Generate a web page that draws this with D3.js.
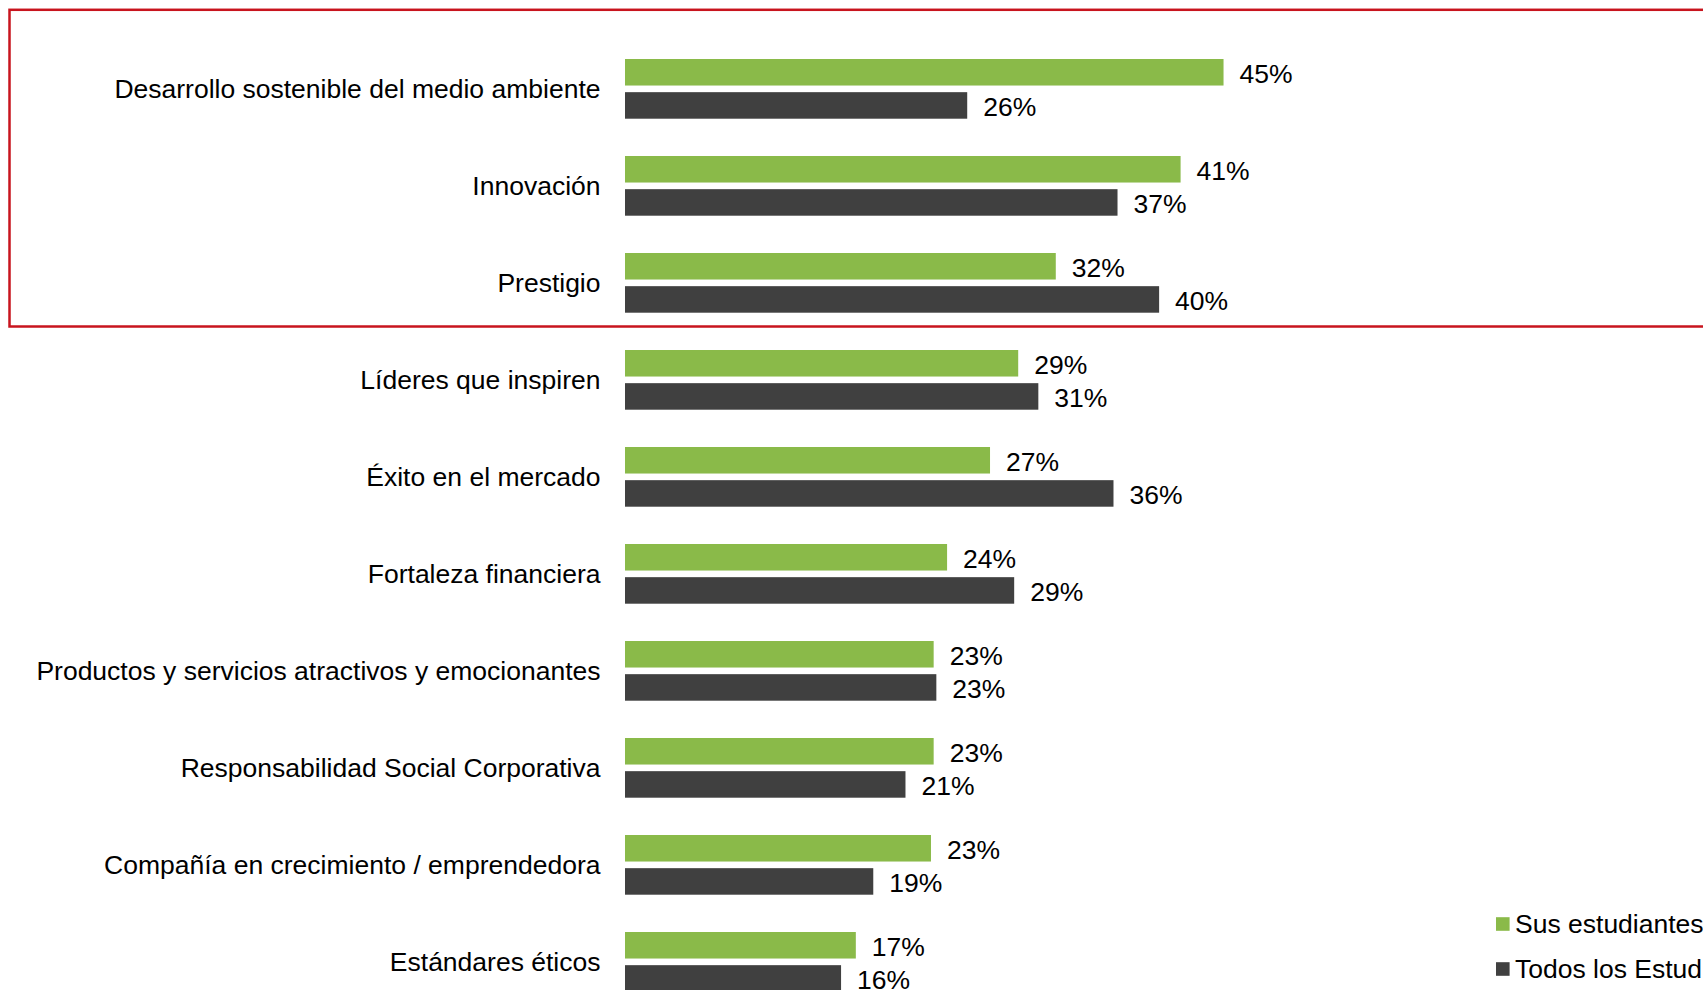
<!DOCTYPE html>
<html>
<head>
<meta charset="utf-8">
<script src="https://cdn.jsdelivr.net/npm/d3@7"></script>
<style>
  html, body { margin: 0; padding: 0; background: #ffffff; overflow: hidden; }
  svg { display: block; }
  text { font-family: "Liberation Sans", Arial, sans-serif; fill: #000; }
</style>
</head>
<body>
<svg id="chart" width="1703" height="990"></svg>
<script>
const categories = [
  "Desarrollo sostenible del medio ambiente",
  "Innovación",
  "Prestigio",
  "Líderes que inspiren",
  "Éxito en el mercado",
  "Fortaleza financiera",
  "Productos y servicios atractivos y emocionantes",
  "Responsabilidad Social Corporativa",
  "Compañía en crecimiento / emprendedora",
  "Estándares éticos"
];
const seriesNames = ["Sus estudiantes", "Todos los Estudiantes"];
const susEstudiantes = [44.6, 41.4, 32.1, 29.3, 27.2, 24.0, 23.0, 23.0, 22.8, 17.2];
const todosEstudiantes = [25.5, 36.7, 39.8, 30.8, 36.4, 29.0, 23.2, 20.9, 18.5, 16.1];
const colors = ["#8aba49", "#404040"];

const svg = d3.select("#chart");

const x = d3.scaleLinear().domain([0, 100]).range([625, 625 + 1342]);
const y = d3.scaleBand().domain(categories).range([40.35, 1010.35])
  .paddingInner(0.3845).paddingOuter(0.3845 / 2);
const ySub = d3.scaleBand().domain(seriesNames).range([0, y.bandwidth()]).paddingInner(0.2);

// highlight box
svg.append("rect")
  .attr("x", 9.5).attr("y", 9.8)
  .attr("width", 1800).attr("height", 326.5 - 9.8)
  .attr("fill", "none").attr("stroke", "#c8141e").attr("stroke-width", 2.5);

const rows = categories.map((c, i) => ({ cat: c, vals: [susEstudiantes[i], todosEstudiantes[i]] }));

const g = svg.append("g").selectAll("g.row").data(rows).join("g")
  .attr("class", "row")
  .attr("transform", d => `translate(0,${y(d.cat)})`);

g.append("text")
  .attr("x", 600.5)
  .attr("y", y.bandwidth() / 2)
  .attr("text-anchor", "end")
  .attr("dominant-baseline", "central")
  .style("font-size", "26.5px")
  .text(d => d.cat);

const fmt = v => d3.format(".0f")(v) + "%";

const bars = g.selectAll("g.bar").data(d => d.vals.map((v, j) => ({ v, s: seriesNames[j], j })))
  .join("g").attr("class", "bar");

bars.append("rect")
  .attr("x", x(0))
  .attr("y", d => ySub(d.s))
  .attr("width", d => x(d.v) - x(0))
  .attr("height", ySub.bandwidth())
  .attr("fill", d => colors[d.j]);

bars.append("text")
  .attr("x", d => x(d.v) + 16)
  .attr("y", d => ySub(d.s) + ySub.bandwidth() / 2 + 1.5)
  .attr("dominant-baseline", "central")
  .style("font-size", "26.5px")
  .text(d => fmt(d.v));

// legend
const legend = svg.append("g").selectAll("g").data(seriesNames).join("g")
  .attr("transform", (d, i) => `translate(1496,${924 + i * 45})`);
legend.append("rect")
  .attr("x", 0).attr("y", -6.8).attr("width", 13.6).attr("height", 13.6)
  .attr("fill", (d, i) => colors[i]);
legend.append("text")
  .attr("x", 19).attr("y", 0)
  .attr("dominant-baseline", "central")
  .style("font-size", "26.5px")
  .text(d => d);
</script>
</body>
</html>
